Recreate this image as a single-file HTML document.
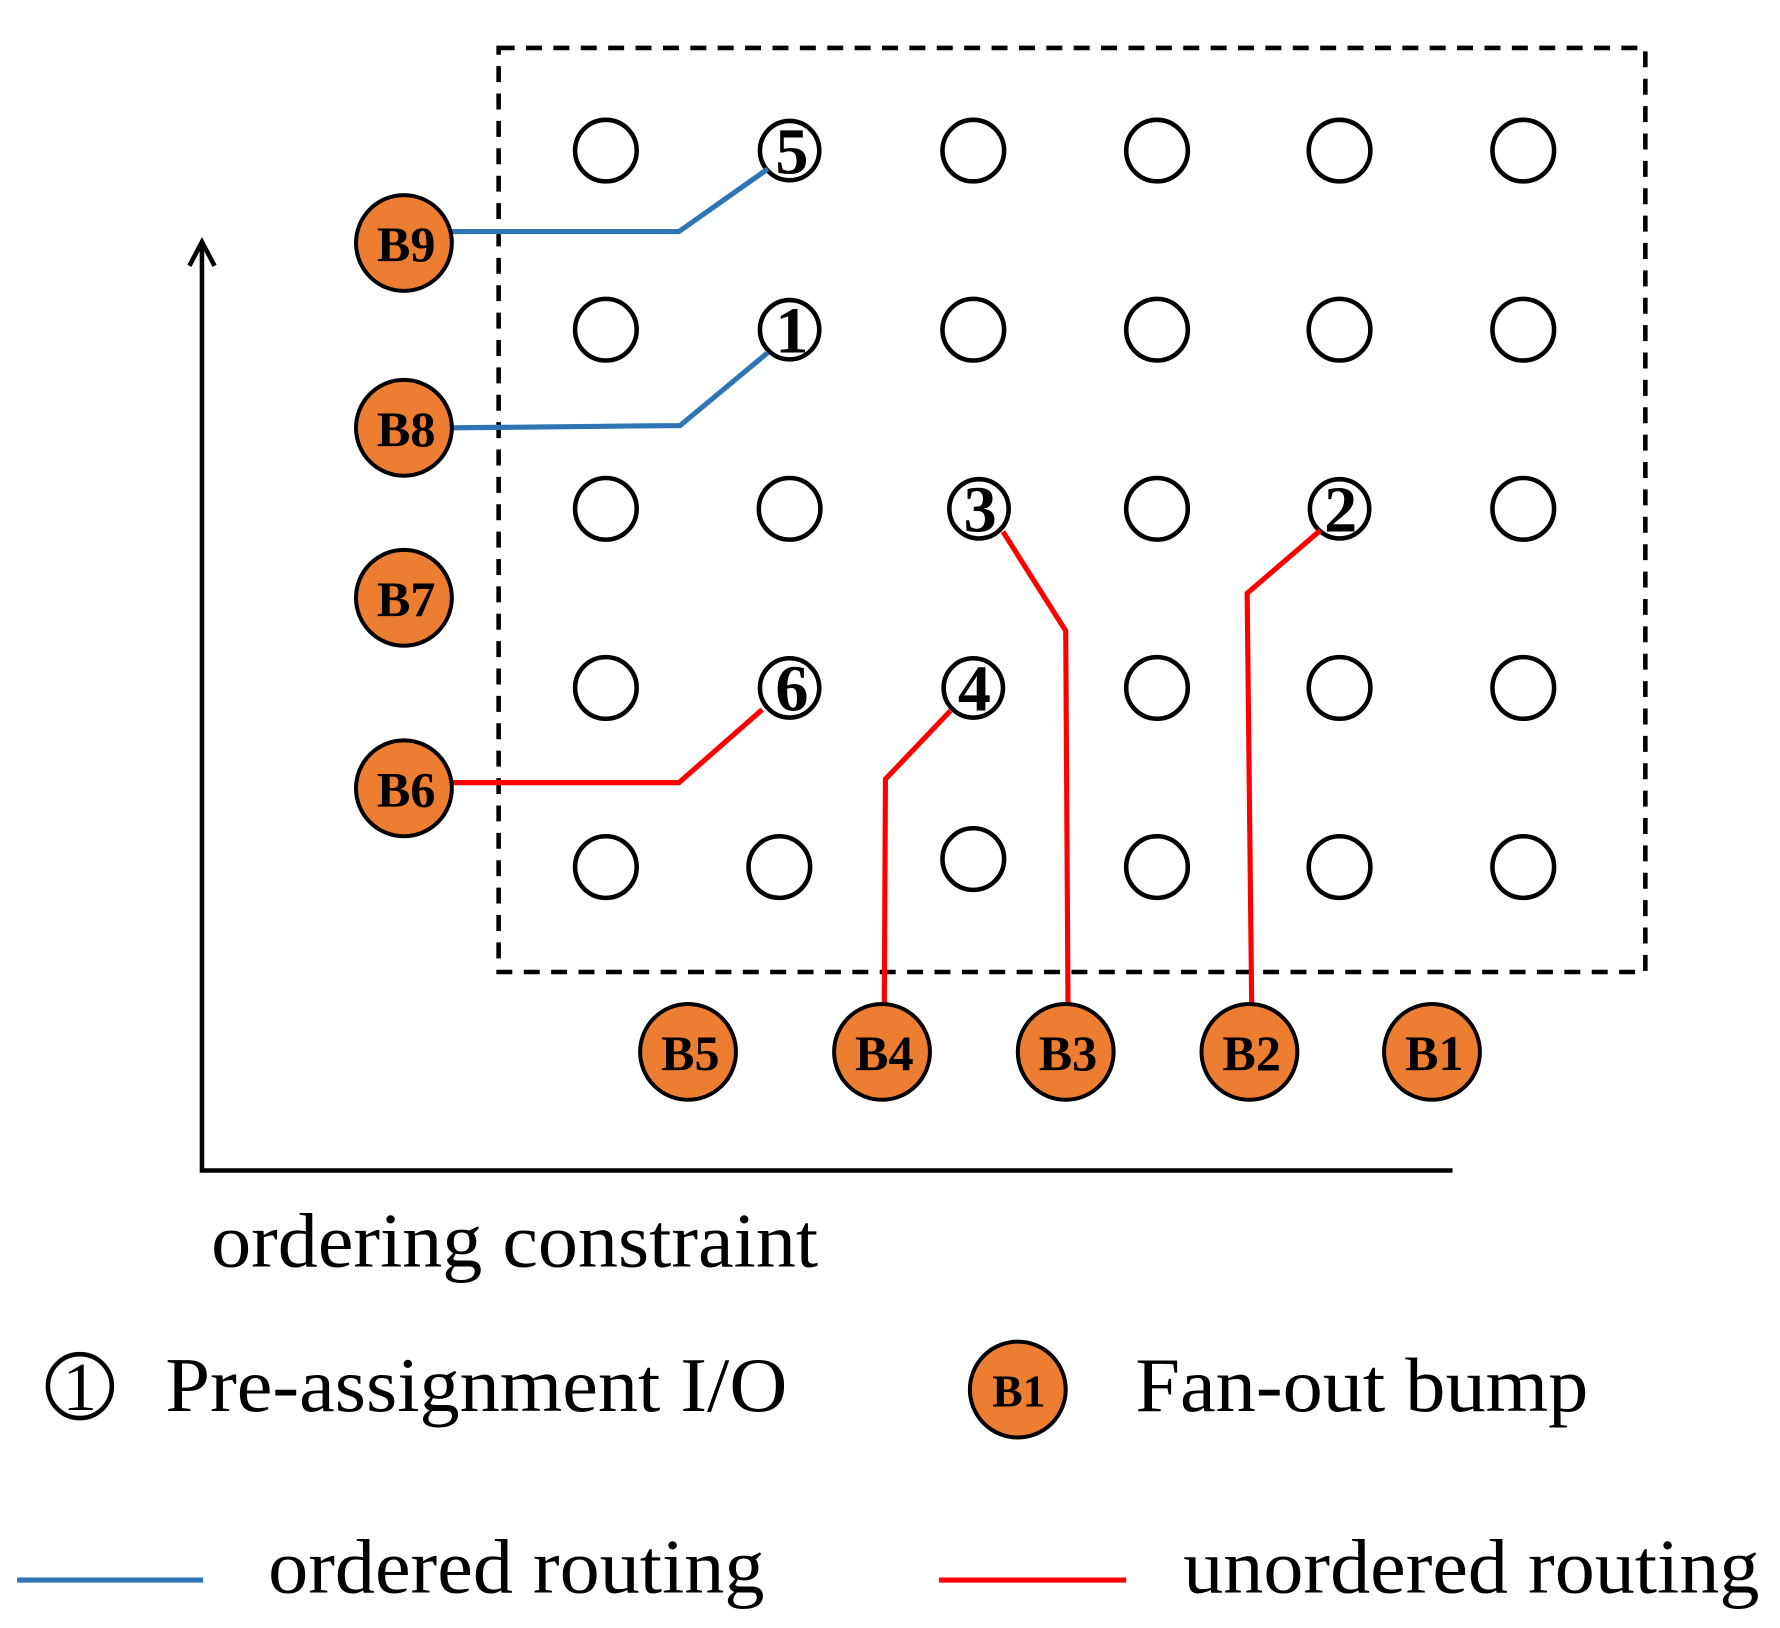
<!DOCTYPE html>
<html><head><meta charset="utf-8"><style>html,body{margin:0;padding:0;background:#fff}svg{display:block}</style></head>
<body>
<svg width="1780" height="1628" viewBox="0 0 1560 1427" preserveAspectRatio="none" xmlns="http://www.w3.org/2000/svg" font-family="Liberation Serif, serif">
<rect x="437" y="42" width="1005" height="810" fill="none" stroke="#000" stroke-width="4" stroke-dasharray="14,10"/>
<g fill="none" stroke="#000" stroke-width="4">
<circle cx="531" cy="132" r="27"/><circle cx="853" cy="132" r="27"/><circle cx="1014" cy="132" r="27"/><circle cx="1174" cy="132" r="27"/><circle cx="1335" cy="132" r="27"/>
<circle cx="531" cy="289" r="27"/><circle cx="853" cy="289" r="27"/><circle cx="1014" cy="289" r="27"/><circle cx="1174" cy="289" r="27"/><circle cx="1335" cy="289" r="27"/>
<circle cx="531" cy="446" r="27"/><circle cx="692" cy="446" r="27"/><circle cx="1014" cy="446" r="27"/><circle cx="1335" cy="446" r="27"/>
<circle cx="531" cy="603" r="27"/><circle cx="1014" cy="603" r="27"/><circle cx="1174" cy="603" r="27"/><circle cx="1335" cy="603" r="27"/>
<circle cx="531" cy="760" r="27"/><circle cx="683" cy="760" r="27"/><circle cx="853" cy="753" r="27"/><circle cx="1014" cy="760" r="27"/><circle cx="1174" cy="760" r="27"/><circle cx="1335" cy="760" r="27"/>
<circle cx="692" cy="132" r="26"/><circle cx="692" cy="289" r="26"/><circle cx="858" cy="446" r="26"/><circle cx="1174" cy="446" r="26"/><circle cx="692" cy="603" r="26"/><circle cx="853" cy="603" r="26"/>
<circle cx="70" cy="1215" r="28"/>
</g>
<g font-size="58" font-weight="bold" text-anchor="middle">
<text x="694" y="152">5</text><text x="694" y="309">1</text><text x="859" y="466">3</text><text x="1175" y="466">2</text><text x="694" y="623">6</text><text x="854" y="623">4</text>
</g>
<text x="70" y="1236" font-size="60" text-anchor="middle">1</text>
<g fill="none" stroke-width="4.5">
<polyline stroke="#2e75b6" points="396,203 595,203 673,148"/>
<polyline stroke="#2e75b6" points="396,375 596,373 673,309"/>
<polyline stroke="#ff0000" points="396,686 595,686 668,622"/>
<polyline stroke="#ff0000" points="775,882 776,683 833,623"/>
<polyline stroke="#ff0000" points="936,882 934,553 879,466"/>
<polyline stroke="#ff0000" points="1097,882 1093,520 1157,465"/>
<line stroke="#2e75b6" x1="15" y1="1385" x2="178" y2="1385"/>
<line stroke="#ff0000" x1="823" y1="1385" x2="987" y2="1385"/>
</g>
<g fill="#ed7d31" stroke="#000" stroke-width="3.5">
<circle cx="354" cy="213" r="42"/><circle cx="354" cy="375" r="42"/><circle cx="354" cy="524" r="42"/><circle cx="354" cy="691" r="42"/>
<circle cx="603" cy="922" r="42"/><circle cx="773" cy="922" r="42"/><circle cx="934" cy="922" r="42"/><circle cx="1095" cy="922" r="42"/><circle cx="1255" cy="922" r="42"/>
<circle cx="892" cy="1218" r="42"/>
</g>
<g font-size="44" font-weight="bold" text-anchor="middle">
<text x="356" y="229">B9</text><text x="356" y="391">B8</text><text x="356" y="540">B7</text><text x="356" y="707">B6</text>
<text x="605" y="938">B5</text><text x="775" y="938">B4</text><text x="936" y="938">B3</text><text x="1097" y="938">B2</text><text x="1257" y="938">B1</text>
<text x="893" y="1233" font-size="40">B1</text>
</g>
<g stroke="#000" stroke-width="4" fill="none">
<polyline points="177,212 177,1026 1273,1026"/>
<polyline points="166,233 177,212 188,233"/>
</g>
<g font-size="68">
<text x="185" y="1110" textLength="532" lengthAdjust="spacingAndGlyphs">ordering constraint</text>
<text x="145" y="1237" textLength="545" lengthAdjust="spacingAndGlyphs">Pre-assignment I/O</text>
<text x="995" y="1237" textLength="397" lengthAdjust="spacingAndGlyphs">Fan-out bump</text>
<text x="235" y="1396" textLength="435" lengthAdjust="spacingAndGlyphs">ordered routing</text>
<text x="1037" y="1396" textLength="505" lengthAdjust="spacingAndGlyphs">unordered routing</text>
</g>
</svg>
</body></html>
